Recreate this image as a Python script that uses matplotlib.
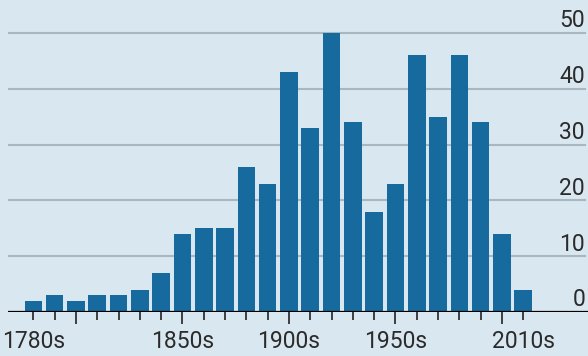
import matplotlib
matplotlib.use("Agg")
import matplotlib.pyplot as plt
import matplotlib.transforms as mtransforms

plt.rcParams['font.family'] = ['Roboto', 'DejaVu Sans']

# decades 1780s..2010s and counts
decades = list(range(1780, 2020, 10))
counts = [2, 3, 2, 3, 3, 4, 7, 14, 15, 15, 26, 23, 43, 33, 50, 34,
          18, 23, 46, 35, 46, 34, 14, 4]
yticks = [0, 10, 20, 30, 40, 50]
xlabels = {1780: '1780s', 1850: '1850s', 1900: '1900s', 1950: '1950s', 2010: '2010s'}
long_ticks = [1800, 1850, 1900, 1950, 2000]

bg = '#d9e7f0'
bar_col = '#176a9e'
grid_col = '#a9b7bf'
txt_col = '#2b2b2b'

fig = plt.figure(figsize=(5.88, 3.56), dpi=100, facecolor=bg)
ax = fig.add_axes([8 / 588, 44 / 356, 580 / 588, 312 / 356])
ax.set_facecolor(bg)

step = 10
ax.set_xlim(decades[0] - 1.19 * step, decades[0] + 26.04 * step)
ax.set_ylim(0, 55.9)

for v in yticks[1:]:
    ax.axhline(v, xmin=0, xmax=577 / 580, color=grid_col, lw=1.5, zorder=1)
    ax.text(1 - 3 / 580, v + 1.0, str(v), transform=ax.get_yaxis_transform(),
            ha='right', va='baseline', fontsize=16.5, color=txt_col)
ax.text(1 - 3 / 580, 1.0, '0', transform=ax.get_yaxis_transform(),
        ha='right', va='baseline', fontsize=16.5, color=txt_col)

ax.bar(decades, counts, width=0.83 * step, color=bar_col, zorder=2)

ax.axhline(0, color='black', lw=1.6, zorder=3)

for s in ax.spines.values():
    s.set_visible(False)
ax.set_yticks([])

short = [d for d in decades if d not in long_ticks]
ax.set_xticks(long_ticks)
ax.set_xticks(short, minor=True)
ax.set_xticklabels([])
ax.tick_params(axis='x', which='major', length=8.5, width=1.2, color='#222222')
ax.tick_params(axis='x', which='minor', length=6, width=1.2, color='#222222')

trans = mtransforms.blended_transform_factory(ax.transData, ax.transAxes)
for d, lab in xlabels.items():
    ax.text(d, -18 / 312, lab, transform=trans, ha='center', va='top',
            fontsize=16.5, color=txt_col)

fig.savefig('out.png', dpi=100, facecolor=bg)
